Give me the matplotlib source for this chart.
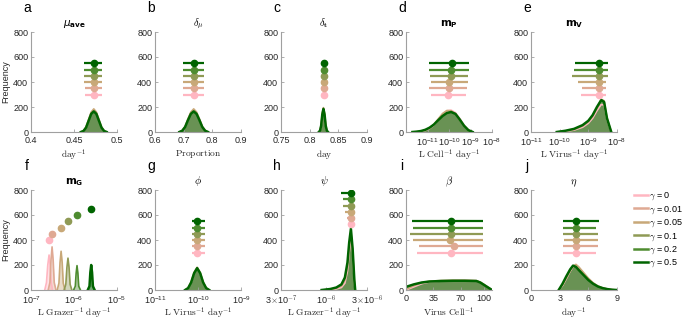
import numpy as np
import matplotlib
matplotlib.use('Agg')
import matplotlib.pyplot as plt
from matplotlib.lines import Line2D

plt.rcParams['font.family'] = ['Liberation Sans', 'DejaVu Sans']
plt.rcParams['mathtext.fontset'] = 'cm'

# gamma values and their colours (pink -> dark green)
gammas = ['0', '0.01', '0.05', '0.1', '0.2', '0.5']
colors = ['#ffb6c1', '#dfa993', '#c8a878', '#8f9a55', '#4e8c30', '#006400']

# posterior summaries: median and interval for each gamma
a_mid = [0.473, 0.473, 0.473, 0.473, 0.473, 0.473]
a_lo = [0.463, 0.463, 0.462, 0.462, 0.462, 0.462]
a_hi = [0.483, 0.483, 0.483, 0.483, 0.483, 0.483]
b_mid = [0.735, 0.735, 0.735, 0.735, 0.735, 0.735]
b_lo = [0.698, 0.698, 0.698, 0.698, 0.698, 0.698]
b_hi = [0.772, 0.772, 0.772, 0.772, 0.772, 0.772]
c_mid = [0.825, 0.825, 0.825, 0.825, 0.825, 0.825]
c_lo = [0.821, 0.821, 0.821, 0.821, 0.821, 0.821]
c_hi = [0.829, 0.829, 0.829, 0.829, 0.829, 0.829]
d_mid = [-10.05, -10.0, -10.0, -9.9, -9.9, -9.86]   # log10
d_lo = [-10.85, -10.93, -10.85, -10.88, -10.93, -10.93]
d_hi = [-9.2, -9.17, -9.13, -9.1, -9.07, -9.07]
e_mid = [-8.63, -8.63, -8.63, -8.63, -8.63, -8.63]
e_lo = [-9.26, -9.22, -9.36, -9.57, -9.5, -9.47]
e_hi = [-8.39, -8.39, -8.39, -8.32, -8.32, -8.32]
f_mid = [-6.58, -6.51, -6.30, -6.14, -5.93, -5.60]
f_lo = [-6.59, -6.52, -6.31, -6.15, -5.94, -5.61]
f_hi = [-6.57, -6.50, -6.29, -6.13, -5.92, -5.59]
g_mid = [-10.02, -10.02, -10.02, -10.02, -10.02, -10.02]
g_lo = [-10.14, -10.14, -10.14, -10.14, -10.14, -10.14]
g_hi = [-9.84, -9.84, -9.84, -9.84, -9.84, -9.84]
h_mid = [-5.709, -5.709, -5.709, -5.709, -5.709, -5.709]
h_lo = [-5.732, -5.756, -5.779, -5.802, -5.802, -5.825]
h_hi = [-5.69, -5.69, -5.69, -5.69, -5.69, -5.69]
i_mid = [58, 62, 56, 58, 57, 58]
i_lo = [14, 16, 9, 5, 9, 8]
i_hi = [99, 99, 99, 99, 99, 99]
j_mid = [4.7, 4.7, 4.7, 4.7, 4.7, 4.7]
j_lo = [3.4, 3.35, 3.45, 3.35, 3.35, 3.35]
j_hi = [6.8, 7.0, 7.0, 7.05, 6.8, 7.1]

# histogram outlines (frequency) for gamma = 0, 0.05, 0.5
a_x = [0.458, 0.461, 0.464, 0.467, 0.470, 0.473, 0.476, 0.479, 0.482, 0.485, 0.488]
a_f = [[0, 9, 38, 95, 155, 175, 155, 95, 38, 9, 0],
       [0, 10, 40, 100, 160, 185, 160, 100, 40, 10, 0],
       [0, 8, 35, 90, 145, 165, 145, 90, 35, 8, 0]]
b_x = [0.685, 0.695, 0.705, 0.715, 0.725, 0.735, 0.745, 0.755, 0.765, 0.775, 0.785]
b_f = [[0, 11, 42, 100, 150, 172, 150, 100, 42, 11, 0],
       [0, 12, 45, 105, 160, 185, 160, 105, 45, 12, 0],
       [0, 10, 40, 95, 145, 165, 145, 95, 40, 10, 0]]
c_x = [0.816, 0.818, 0.820, 0.822, 0.824, 0.826, 0.828, 0.830, 0.832]
c_f = [[0, 11, 52, 145, 190, 145, 52, 11, 0],
       [0, 12, 55, 150, 195, 150, 55, 12, 0],
       [0, 10, 50, 140, 185, 140, 50, 10, 0]]
d_x = [-11.7, -11.5, -11.3, -11.1, -10.9, -10.7, -10.5, -10.3, -10.1, -9.9, -9.7, -9.5, -9.3, -9.1, -8.9]
d_f = [[0, 2, 5, 12, 28, 55, 95, 140, 170, 175, 155, 108, 55, 18, 0],
       [0, 2, 6, 15, 32, 62, 105, 148, 172, 170, 145, 98, 48, 14, 0],
       [0, 3, 8, 18, 35, 60, 95, 128, 152, 160, 145, 100, 50, 15, 0]]
e_x = [-10.1, -9.8, -9.5, -9.2, -9.0, -8.85, -8.7, -8.55, -8.45, -8.35, -8.2]
e_f = [[0, 5, 15, 38, 70, 110, 170, 220, 215, 100, 0],
       [0, 8, 20, 48, 82, 125, 190, 262, 250, 115, 0],
       [0, 10, 25, 55, 90, 135, 200, 256, 240, 110, 0]]
f_x = [[-6.68, -6.64, -6.61, -6.58, -6.555, -6.53, -6.50],
       [-6.60, -6.56, -6.535, -6.51, -6.485, -6.46, -6.42],
       [-6.39, -6.35, -6.325, -6.30, -6.275, -6.25, -6.21],
       [-6.23, -6.19, -6.165, -6.14, -6.115, -6.09, -6.05],
       [-6.01, -5.97, -5.95, -5.93, -5.91, -5.89, -5.85],
       [-5.68, -5.64, -5.62, -5.60, -5.58, -5.56, -5.52]]
f_f = [[0, 60, 200, 280, 200, 60, 0],
       [0, 60, 240, 345, 240, 60, 0],
       [0, 55, 220, 310, 220, 55, 0],
       [0, 45, 180, 255, 180, 45, 0],
       [0, 30, 135, 195, 135, 30, 0],
       [0, 30, 140, 200, 140, 30, 0]]
g_x = [-10.3, -10.23, -10.16, -10.09, -10.02, -9.95, -9.88, -9.81, -9.74]
g_f = [[0, 16, 62, 138, 178, 138, 62, 16, 0],
       [0, 17, 65, 140, 182, 140, 65, 17, 0],
       [0, 15, 60, 135, 175, 135, 60, 15, 0]]
h_x = [-6.05, -5.95, -5.88, -5.82, -5.78, -5.75, -5.73, -5.71, -5.69, -5.67, -5.66]
h_f = [[0, 3, 8, 20, 55, 150, 300, 420, 300, 60, 0],
       [0, 5, 14, 32, 80, 190, 350, 460, 320, 70, 0],
       [0, 8, 20, 45, 100, 220, 380, 490, 330, 80, 0]]
i_x = [0, 10, 20, 30, 45, 60, 75, 90, 95, 100, 105, 110]
i_f = [[0, 25, 50, 65, 72, 75, 76, 74, 62, 42, 20, 0],
       [5, 35, 58, 70, 76, 78, 78, 75, 63, 44, 22, 0],
       [25, 45, 60, 68, 72, 74, 74, 72, 60, 40, 20, 0]]
j_x = [2.9, 3.3, 3.7, 4.1, 4.4, 4.7, 5.0, 5.5, 6.0, 6.5, 7.0, 7.5, 8.0, 8.5, 9.0]
j_f = [[0, 35, 90, 150, 185, 200, 180, 135, 90, 55, 30, 16, 8, 3, 0],
       [0, 40, 95, 155, 190, 205, 185, 140, 95, 58, 32, 17, 8, 3, 0],
       [0, 50, 110, 165, 195, 185, 160, 120, 80, 50, 28, 15, 7, 2, 0]]

y_default = [300, 350, 400, 450, 500, 550]
y_f = [400, 450, 500, 550, 600, 650]
y_h = [525, 575, 625, 675, 725, 775]

fig = plt.figure(figsize=(6.85, 3.21), dpi=100)
W, H = 685, 321
cols = [31, 155, 281, 406, 531]
rows = [32, 190]
aw, ah = 86, 100

grey = '#a0a0a0'
txt = '#262626'


def make_ax(col, row):
    ax = fig.add_axes([cols[col] / W, 1 - (rows[row] + ah) / H, aw / W, ah / H])
    for s in ['top', 'right']:
        ax.spines[s].set_visible(False)
    for s in ['left', 'bottom']:
        ax.spines[s].set_color(grey)
        ax.spines[s].set_linewidth(0.8)
    ax.tick_params(direction='in', length=2.5, width=0.6, color=grey,
                   labelsize=6.5, labelcolor=txt, pad=2)
    ax.tick_params(axis='x', pad=3)
    ax.set_ylim(0, 800)
    ax.set_yticks([0, 200, 400, 600, 800])
    return ax


def hists(ax, x, fs, idx=(0, 2, 5), log=False):
    xx = 10.0 ** np.array(x) if log else np.array(x)
    for k, f in zip(idx, fs):
        a = 0.55 if k == 5 else 0.4
        ax.fill_between(xx, f, color=colors[k], alpha=a, lw=0)
        ax.plot(xx, f, color=colors[k], lw=1.8 if k == 5 else 1.2)


def bars(ax, mid, lo, hi, ys, log=False):
    for k in range(6):
        m, l, h = mid[k], lo[k], hi[k]
        if log:
            m, l, h = 10.0 ** m, 10.0 ** l, 10.0 ** h
        ax.errorbar([m], [ys[k]], xerr=[[m - l], [h - m]], fmt='o', color=colors[k],
                    ms=4.5, lw=1.6, capsize=0)


def label(ax, letter, title, xlab, tfam='cm', ylab=-0.16):
    p = ax.get_position()
    fig.text(p.x0 - 4 / W, p.y1 + 31 / H, letter, fontsize=10, ha='center', va='top', color='k')
    ax.set_title(title, fontsize=7.5, pad=4, math_fontfamily=tfam)
    ax.set_xlabel(xlab, fontsize=6.8, color=txt)
    ax.xaxis.set_label_coords(0.5, ylab)


# a
ax = make_ax(0, 0)
hists(ax, a_x, a_f)
bars(ax, a_mid, a_lo, a_hi, y_default)
ax.set_xlim(0.4, 0.5)
ax.set_xticks([0.4, 0.45, 0.5])
ax.set_xticklabels(['0.4', '0.45', '0.5'])
ax.set_ylabel('Frequency', fontsize=6.5, color=txt, labelpad=2)
label(ax, 'a', r'$\mu_{\mathbf{ave}}$', r'$\mathrm{day}^{-1}$', 'dejavusans')

# b
ax = make_ax(1, 0)
hists(ax, b_x, b_f)
bars(ax, b_mid, b_lo, b_hi, y_default)
ax.set_xlim(0.6, 0.9)
ax.set_xticks([0.6, 0.7, 0.8, 0.9])
label(ax, 'b', r'$\delta_{\mu}$', r'$\mathrm{Proportion}$')

# c
ax = make_ax(2, 0)
hists(ax, c_x, c_f)
bars(ax, c_mid, c_lo, c_hi, y_default)
ax.set_xlim(0.75, 0.9)
ax.set_xticks([0.75, 0.8, 0.85, 0.9])
ax.set_xticklabels(['0.75', '0.8', '0.85', '0.9'])
label(ax, 'c', r'$\delta_{\mathbf{t}}$', r'$\mathrm{day}$')

# d
ax = make_ax(3, 0)
ax.set_xscale('log')
hists(ax, d_x, d_f, log=True)
bars(ax, d_mid, d_lo, d_hi, y_default, log=True)
ax.set_xlim(1e-12, 1e-8)
ax.set_xticks([1e-11, 1e-10, 1e-9, 1e-8])
ax.minorticks_off()
label(ax, 'd', r'$\mathbf{m_P}$', r'$\mathrm{L\ Cell}^{-1}\ \mathrm{day}^{-1}$', 'dejavusans')

# e
ax = make_ax(4, 0)
ax.set_xscale('log')
hists(ax, e_x, e_f, log=True)
bars(ax, e_mid, e_lo, e_hi, y_default, log=True)
ax.set_xlim(1e-11, 1e-8)
ax.set_xticks([1e-11, 1e-10, 1e-9, 1e-8])
ax.minorticks_off()
label(ax, 'e', r'$\mathbf{m_V}$', r'$\mathrm{L\ Virus}^{-1}\ \mathrm{day}^{-1}$', 'dejavusans')

# f
ax = make_ax(0, 1)
ax.set_xscale('log')
for k in range(6):
    hists(ax, f_x[k], [f_f[k]], idx=(k,), log=True)
bars(ax, f_mid, f_lo, f_hi, y_f, log=True)
ax.set_xlim(1e-7, 1e-5)
ax.set_xticks([1e-7, 1e-6, 1e-5])
ax.minorticks_off()
ax.set_ylabel('Frequency', fontsize=6.5, color=txt, labelpad=2)
label(ax, 'f', r'$\mathbf{m_G}$', r'$\mathrm{L\ Grazer}^{-1}\ \mathrm{day}^{-1}$', 'dejavusans')

# g
ax = make_ax(1, 1)
ax.set_xscale('log')
hists(ax, g_x, g_f, log=True)
bars(ax, g_mid, g_lo, g_hi, y_default, log=True)
ax.set_xlim(1e-11, 1e-9)
ax.set_xticks([1e-11, 1e-10, 1e-9])
ax.minorticks_off()
label(ax, 'g', r'$\phi$', r'$\mathrm{L\ Virus}^{-1}\ \mathrm{day}^{-1}$')

# h
ax = make_ax(2, 1)
ax.set_xscale('log')
hists(ax, h_x, h_f, log=True)
bars(ax, h_mid, h_lo, h_hi, y_h, log=True)
ax.set_xlim(3e-7, 3e-6)
ax.set_xticks([3e-7, 1e-6, 3e-6])
ax.set_xticklabels([r'3$\times$10$^{-7}$', r'10$^{-6}$', r'3$\times$10$^{-6}$'])
ax.minorticks_off()
label(ax, 'h', r'$\psi$', r'$\mathrm{L\ Grazer}^{-1}\ \mathrm{day}^{-1}$')

# i
ax = make_ax(3, 1)
hists(ax, i_x, i_f)
bars(ax, i_mid, i_lo, i_hi, y_default)
ax.set_xlim(0, 110)
ax.set_xticks([0, 35, 70, 100])
label(ax, 'i', r'$\beta$', r'$\mathrm{Virus\ Cell}^{-1}$')

# j
ax = make_ax(4, 1)
hists(ax, j_x, j_f)
bars(ax, j_mid, j_lo, j_hi, y_default)
ax.set_xlim(0, 9)
ax.set_xticks([0, 3, 6, 9])
label(ax, 'j', r'$\eta$', r'$\mathrm{day}^{-1}$')

handles = [Line2D([], [], color=c, lw=1.8) for c in colors]
labels = [r'$\gamma$ = ' + g for g in gammas]
fig.legend(handles, labels, loc='upper left', bbox_to_anchor=(629 / W, 1 - 186 / H),
           frameon=False, fontsize=6.5, handlelength=1.6, handletextpad=0.1,
           labelspacing=0.2, borderpad=0)

fig.savefig('out.png', dpi=100)
